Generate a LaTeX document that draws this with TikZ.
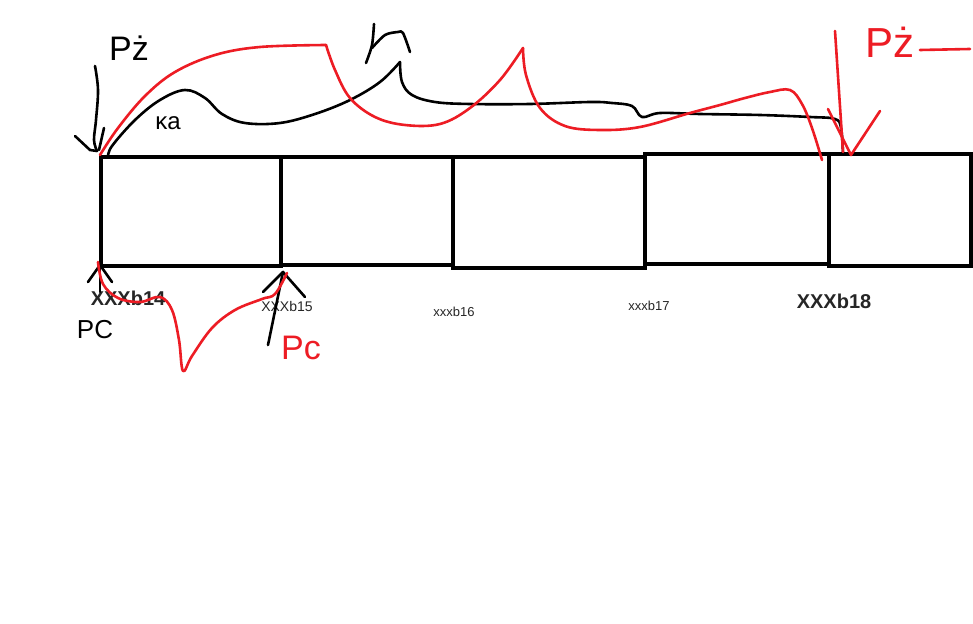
\documentclass[tikz,border=0pt]{standalone}
\usepackage{fontspec}
\setmainfont{Liberation Sans}
\usetikzlibrary{positioning}
\definecolor{pen}{RGB}{237,28,36}
\tikzset{
  cell/.style={draw=black,line width=4.5pt,inner sep=0pt},
  ink/.style={draw=black,line width=2.6pt,line cap=round,line join=round},
  rink/.style={draw=pen,line width=2.6pt,line cap=round,line join=round},
  lab/.style={inner sep=0pt,text=black!85},
  hand/.style={inner sep=0pt,font=\fontsize{26}{28}\selectfont},
}
\begin{document}
\begin{tikzpicture}[x=1pt,y=-1pt]
\useasboundingbox (0,0) rectangle (973,623);
\fill[white] (0,0) rectangle (973,623);
% boxes
\draw[cell] (101,157) rectangle (281,266);
\draw[cell] (281,157) rectangle (453,265);
\draw[cell] (453,157) rectangle (645,268);
\draw[cell] (645,154) rectangle (829,264);
\draw[cell] (829,154) rectangle (971,266);
% labels under boxes
\node[lab,font=\bfseries\fontsize{20}{22}\selectfont] (b14) at (128,298) {XXXb14};
\node[lab,font=\fontsize{14}{16}\selectfont] (b15) at (287,306) {XXXb15};
\node[lab,font=\fontsize{13}{15}\selectfont] (b16) at (454,312) {xxxb16};
\node[lab,font=\fontsize{13}{15}\selectfont] (b17) at (649,306) {xxxb17};
\node[lab,font=\bfseries\fontsize{20}{22}\selectfont] (b18) at (834,301) {XXXb18};
% black curve
\draw[ink] plot[smooth,tension=0.6] coordinates {(108,157) (112,146) (135,120) (160,100) (185,90) (205,98) (222,114) (245,123) (280,123) (315,114) (350,100) (380,82) (400,62)};
\draw[ink] plot[smooth,tension=0.6] coordinates {(400,62) (402,82) (412,95) (435,102) (470,104) (530,104) (590,102) (612,103) (632,106) (642,117) (660,113) (700,114) (760,115) (810,117) (835,119) (841,128) (843,154)};
% black h-like hook
\draw[ink] plot[smooth,tension=0.5] coordinates {(374,24) (372,45) (366,63)};
\draw[ink] plot[smooth,tension=0.5] coordinates {(372,48) (385,35) (398,32) (403,33) (410,52)};
% black handwritten labels
\node[hand,font=\fontsize{34}{36}\selectfont] (pz1) at (129,48) {Pż};
\node[hand,font=\fontsize{24}{26}\selectfont] (ka) at (168,123) {κa};
\node[hand] (pc1) at (95,330) {PC};
% black arrow to top-left corner
\draw[ink] plot[smooth,tension=0.6] coordinates {(95,66) (98,90) (96,120) (94,140) (97,151)};
\draw[ink] (75,136) -- (90,150) -- (97,151);
\draw[ink] (104,128) -- (99,150);
% black arrow bottom-left
\draw[ink] (88,282) -- (100,265) -- (112,282);
\draw[ink] (100,265) -- (100,292);
% black arrow bottom second
\draw[ink] (263,292) -- (283,272) -- (305,297);
\draw[ink] (283,272) -- (268,345);
% red top curve
\draw[rink] plot[smooth,tension=0.6] coordinates {(100,155) (118,128) (145,96) (175,72) (215,55) (260,47) (326,45)};
\draw[rink] plot[smooth,tension=0.6] coordinates {(326,45) (335,70) (350,98) (375,117) (405,125) (440,124) (470,108) (500,80) (523,48)};
\draw[rink] plot[smooth,tension=0.6] coordinates {(523,48) (526,75) (540,108) (565,126) (600,130) (640,127) (690,113) (720,105) (745,98) (770,92) (790,90) (802,104) (812,128) (822,160)};
% red arrow right
\draw[rink] (835,31) -- (843,152);
\draw[rink] (828,109) -- (851,155) -- (880,111);
% red handwritten label right
\node[hand,text=pen,font=\fontsize{42}{44}\selectfont] (pz2) at (890,42) {Pż};
\draw[rink] (920,50) -- (970,49);
% red bottom curve
\draw[rink] plot[smooth,tension=0.6] coordinates {(98,262) (103,284) (118,298) (140,302) (160,297) (172,310) (179,340) (183,371) (192,356) (212,328) (235,310) (262,299) (275,294) (287,273)};
\node[hand,text=pen,font=\fontsize{34}{36}\selectfont] (pc2) at (301,348) {Pc};
\end{tikzpicture}
\end{document}
